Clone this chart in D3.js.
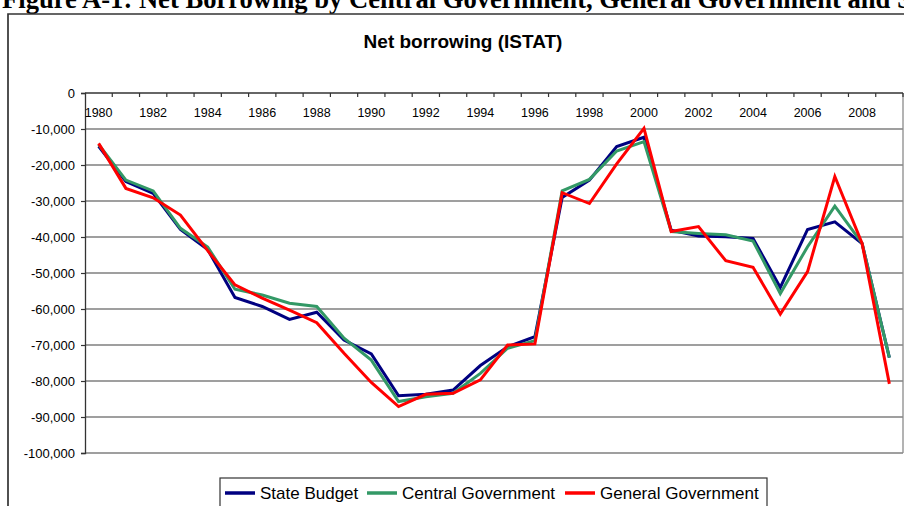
<!DOCTYPE html>
<html>
<head>
<meta charset="utf-8">
<script src="https://cdn.jsdelivr.net/npm/d3@7/dist/d3.min.js"></script>
<style>
  body { margin: 0; background: #fff; }
  svg { display: block; }
</style>
</head>
<body>
<div id="chart"></div>
<script>
// years on the category axis
var years = d3.range(1980, 2010);
var yearLabels = ["1980","1982","1984","1986","1988","1990","1992","1994","1996","1998","2000","2002","2004","2006","2008"];
var yTicks = [0,-10000,-20000,-30000,-40000,-50000,-60000,-70000,-80000,-90000,-100000];

// values (millions)
var stateBudget = [-14800,-24600,-27900,-37900,-43500,-56800,-59300,-62900,-60900,-68600,
                   -72500,-84100,-83700,-82500,-75700,-70500,-67700,-29000,-24200,-14900,
                   -12300,-38100,-39700,-39900,-40400,-54000,-37900,-35800,-41800,-73500];
var centralGov  = [-14300,-24200,-27200,-37600,-42800,-54500,-56100,-58400,-59300,-68100,
                   -74200,-85700,-84400,-83400,-77900,-70900,-68800,-27200,-24000,-16100,
                   -13500,-38500,-39000,-39400,-41100,-55700,-42700,-31400,-41800,-73500];
var generalGov  = [-14000,-26500,-29100,-33900,-43800,-53300,-57000,-60300,-63800,-72300,
                   -80400,-87100,-83700,-83400,-79700,-70000,-69700,-27700,-30700,-19700,
                   -9800,-38500,-37100,-46600,-48400,-61400,-49600,-23200,-41800,-80800];

var seriesNames = ["State Budget", "Central Government", "General Government"];
var seriesColors = ["#000080", "#339966", "#ff0000"];
var seriesData = [stateBudget, centralGov, generalGov];

var width = 904, height = 506;

var svg = d3.select("#chart")
  .append("svg")
  .attr("width", width)
  .attr("height", height);

// figure heading, top half cut off like in the source page
svg.append("text")
  .attr("x", 2)
  .attr("y", 8)
  .attr("font-family", "'Liberation Serif', 'Times New Roman', serif")
  .attr("font-weight", "bold")
  .attr("font-size", 26.6)
  .text("Figure A-1: Net Borrowing by Central Government, General Government and State Budget");

// chart frame
svg.append("path")
  .attr("d", "M8," + height + "V14H" + width)
  .attr("fill", "none")
  .attr("stroke", "#333")
  .attr("stroke-width", 1.7);

// chart title
svg.append("text")
  .attr("x", 463)
  .attr("y", 48)
  .attr("text-anchor", "middle")
  .attr("font-family", "'Liberation Sans', Arial, sans-serif")
  .attr("font-weight", "bold")
  .attr("font-size", 19)
  .text("Net borrowing (ISTAT)");

var x = d3.scaleBand()
  .domain(years)
  .range([85, 903]);

var y = d3.scaleLinear()
  .domain([-100000, 0])
  .range([453, 93]);

var bw = x.bandwidth();

// gridlines
svg.append("g")
  .selectAll("line")
  .data(yTicks.filter(d => d !== 0))
  .enter()
  .append("line")
  .attr("x1", 85)
  .attr("x2", 903)
  .attr("y1", d => y(d))
  .attr("y2", d => y(d))
  .attr("stroke", "#7f7f7f")
  .attr("stroke-width", 1.4);

// right border of plot area
svg.append("line")
  .attr("x1", 903).attr("x2", 903)
  .attr("y1", y(0)).attr("y2", y(-100000))
  .attr("stroke", "#8a8a8a")
  .attr("stroke-width", 1.3);

// y axis
var fmt = d3.format(",");
var yAxis = svg.append("g")
  .attr("transform", "translate(85,0)")
  .call(d3.axisLeft(y)
    .tickValues(yTicks)
    .tickSize(4)
    .tickPadding(6)
    .tickFormat(d => fmt(d).replace("\u2212", "-")));
yAxis.select(".domain").attr("stroke", "#333").attr("stroke-width", 1.3);
yAxis.selectAll(".tick line").attr("stroke", "#333").attr("stroke-width", 1.2);
yAxis.selectAll("text")
  .attr("font-family", "'Liberation Sans', Arial, sans-serif")
  .attr("font-size", 13)
  .attr("fill", "#000");

// category axis along the zero line, ticks between categories
var topAxis = svg.append("g");
topAxis.append("line")
  .attr("x1", 85).attr("x2", 903)
  .attr("y1", y(0)).attr("y2", y(0))
  .attr("stroke", "#333")
  .attr("stroke-width", 1.4);
topAxis.selectAll(".tk")
  .data(years.slice(1).concat([null]))
  .enter()
  .append("line")
  .attr("class", "tk")
  .attr("x1", d => d === null ? 903 : x(d))
  .attr("x2", d => d === null ? 903 : x(d))
  .attr("y1", y(0))
  .attr("y2", y(0) + 4)
  .attr("stroke", "#333")
  .attr("stroke-width", 1.2);
topAxis.selectAll(".lbl")
  .data(yearLabels)
  .enter()
  .append("text")
  .attr("class", "lbl")
  .attr("x", d => x(+d) + bw / 2)
  .attr("y", 117)
  .attr("text-anchor", "middle")
  .attr("font-family", "'Liberation Sans', Arial, sans-serif")
  .attr("font-size", 12.5)
  .text(d => d);

// lines
var line = d3.line()
  .x((d, i) => x(years[i]) + bw / 2)
  .y(d => y(d));

svg.append("g")
  .selectAll("path")
  .data(seriesData)
  .enter()
  .append("path")
  .attr("d", d => line(d))
  .attr("fill", "none")
  .attr("stroke", (d, i) => seriesColors[i])
  .attr("stroke-width", 3)
  .attr("stroke-linejoin", "miter");

// legend
var legend = svg.append("g");
legend.append("rect")
  .attr("x", 220)
  .attr("y", 478)
  .attr("width", 547)
  .attr("height", 40)
  .attr("fill", "#fff")
  .attr("stroke", "#333")
  .attr("stroke-width", 1.2);

var legendX = [225, 367, 565];
seriesNames.forEach(function (name, i) {
  legend.append("line")
    .attr("x1", legendX[i])
    .attr("x2", legendX[i] + 30)
    .attr("y1", 493)
    .attr("y2", 493)
    .attr("stroke", seriesColors[i])
    .attr("stroke-width", 3.5);
  legend.append("text")
    .attr("x", legendX[i] + 35)
    .attr("y", 499)
    .attr("font-family", "'Liberation Sans', Arial, sans-serif")
    .attr("font-size", 17)
    .text(name);
});
</script>
</body>
</html>
